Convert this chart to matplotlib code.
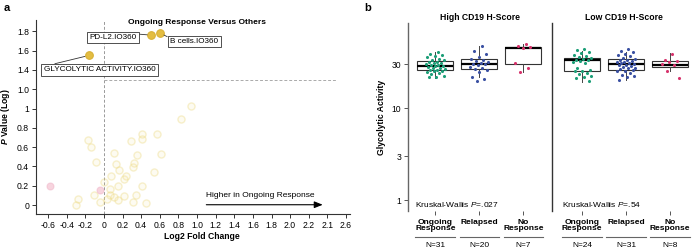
import numpy as np
import matplotlib
matplotlib.use("Agg")
import matplotlib.pyplot as plt

plt.rcParams['font.family'] = ['Liberation Sans', 'DejaVu Sans']
plt.rcParams['mathtext.fontset'] = 'custom'
plt.rcParams['mathtext.it'] = 'Liberation Sans:italic'
plt.rcParams['mathtext.bf'] = 'Liberation Sans:bold'
plt.rcParams['mathtext.bfit'] = 'Liberation Sans:italic:bold'

# ---- panel a: volcano data ----
ns_x = [-0.28, -0.30, -0.17, -0.14, -0.08, -0.11, -0.04, 0.0, 0.065, 0.065, 0.03,
        0.11, 0.125, 0.165, 0.08, 0.155, 0.11, 0.15, 0.215, 0.215, 0.24, 0.29,
        0.315, 0.32, 0.36, 0.31, 0.34, 0.41, 0.405, 0.41, 0.45, 0.54, 0.57,
        0.61, 0.83, 0.94]
ns_y = [0.06, 0.0, 0.67, 0.60, 0.45, 0.10, 0.03, 0.24, 0.17, 0.10, 0.06,
        0.535, 0.425, 0.36, 0.30, 0.20, 0.08, 0.05, 0.09, 0.27, 0.30, 0.66,
        0.39, 0.44, 0.515, 0.035, 0.10, 0.20, 0.74, 0.68, 0.02, 0.34, 0.74,
        0.53, 0.89, 1.03]
neg_x = [-0.58, -0.04]
neg_y = [0.20, 0.16]
sig_x = [-0.16, 0.51, 0.605]
sig_y = [1.55, 1.76, 1.78]
sig_names = ['GLYCOLYTIC ACTIVITY.IO360', 'PD-L2.IO360', 'B cells.IO360']
sig_label_pos = [(-0.048, 1.399), (0.097, 1.736), (0.968, 1.694)]
sig_relpos = [(0, 1), (1, 1), (0, 1)]

xtick_labels = ['-0.6', '-0.4', '-0.2', '0', '0.2', '0.4', '0.6', '0.8', '1.0',
                '1.2', '1.4', '1.6', '1.8', '2.0', '2.2', '2.1', '2.6']
ytick_labels = ['0', '0.2', '0.4', '0.6', '0.8', '1', '1.0', '1.4', '1.6', '1.8']

# ---- panel b: glycolytic activity by response ----
facets = ['High CD19 H-Score', 'Low CD19 H-Score']
groups = ['Ongoing\nResponse', 'Relapsed', 'No\nResponse']
group_colors = ['#1b9e77', '#3a50a2', '#d6336c']
kw_text = ['Kruskal-Wallis $\\mathit{P}$=.027', 'Kruskal-Wallis $\\mathit{P}$=.54']

high_ongoing = [41, 39, 38, 37, 36, 34.5, 33.5, 33, 32, 31.5, 31, 30.5, 30, 29.5, 29,
                28.5, 28.3, 28, 27.5, 27, 26.5, 26, 25.8, 25.5, 25, 24.5, 24, 23.5,
                22.5, 22, 21.5]
high_relapsed = [47, 42, 39, 36, 34.5, 33.5, 32.5, 31.5, 30.5, 30, 29.8, 29, 28, 27,
                 26.5, 26, 24.5, 22, 20.5, 19.5]
high_noresp = [49.5, 47, 45.5, 44.5, 31, 27.5, 24.4]
low_ongoing = [44, 42.5, 41, 40, 38, 36.5, 35.5, 35, 34, 33.5, 33, 32.5, 32, 31, 27,
               26, 25.5, 25, 24, 23.5, 22.5, 22, 21, 19.5]
low_relapsed = [44, 42, 41, 39, 38, 37, 35, 34, 33.5, 33, 32.5, 32, 31.5, 31, 30.5,
                30, 29.5, 29, 28.5, 28, 27.5, 27, 26.5, 26, 25.5, 25, 24, 23, 22.5,
                21.5, 20]
low_noresp = [39, 33, 32.5, 32, 30, 29, 25.4, 21]

# box stats: (whislo, q1, med, q3, whishi)
high_boxes = [(21.2, 25.6, 28.3, 32.4, 40.6),
              (21.7, 26.5, 29.9, 34.1, 47.2),
              (24.4, 29.9, 44.5, 46.4, 49.2)]
low_boxes = [(19.3, 25.3, 33.0, 34.9, 42.2),
             (20.1, 25.9, 29.9, 33.8, 41.1),
             (25.4, 28.1, 29.6, 32.4, 39.3)]
facet_points = [[high_ongoing, high_relapsed, high_noresp],
                [low_ongoing, low_relapsed, low_noresp]]
facet_boxes = [high_boxes, low_boxes]


def main():
    fig = plt.figure(figsize=(6.99, 2.48), dpi=100)
    W, H = 699, 248

    # ================= panel a =================
    ax = fig.add_axes([36 / W, (H - 214) / H, 314 / W, 194 / H])
    ax.set_xlim(-0.729, 2.643)
    ax.set_ylim(-0.093, 1.917)
    for s in ['top', 'right']:
        ax.spines[s].set_visible(False)
    for s in ['left', 'bottom']:
        ax.spines[s].set_linewidth(0.8)
        ax.spines[s].set_color('#333333')

    ax.axvline(0, color='#999999', lw=0.7, dashes=(3, 2), zorder=1)
    ax.plot([0, 2.5], [1.3, 1.3], color='#aaaaaa', lw=0.7, dashes=(3, 2), zorder=1)

    ax.scatter(ns_x, ns_y, s=26, facecolor=(0.96, 0.88, 0.55, 0.12),
               edgecolor=(0.93, 0.85, 0.5, 0.38), linewidth=1.0, zorder=2)
    ax.scatter(neg_x, neg_y, s=26, facecolor=(0.92, 0.58, 0.68, 0.4),
               edgecolor=(0.92, 0.62, 0.72, 0.35), linewidth=0.8, zorder=2)
    ax.scatter(sig_x, sig_y, s=30, facecolor='#e3bd42', edgecolor='#d8b035',
               linewidth=0.8, zorder=3)

    for x, y, name, pos, rp in zip(sig_x, sig_y, sig_names, sig_label_pos, sig_relpos):
        ax.annotate(name, xy=(x, y), xytext=pos, textcoords='data',
                    ha='center', va='center', fontsize=5.9, zorder=4,
                    bbox=dict(boxstyle='square,pad=0.3', fc='white', ec='#333333', lw=0.6),
                    arrowprops=dict(arrowstyle='-', color='#333333', lw=0.6,
                                    relpos=rp, shrinkA=0, shrinkB=3))

    ax.annotate('', xy=(2.35, 0.003), xytext=(1.1, 0.003),
                arrowprops=dict(arrowstyle='-|>,head_length=0.5,head_width=0.2',
                                color='black', lw=0.8, shrinkA=0, shrinkB=0))
    ax.text(1.1, 0.095, 'Higher in Ongoing Response', fontsize=6, ha='left', va='center')

    ax.text(1.0, 1.895, 'Ongoing Response Versus Others', fontsize=6,
            fontweight='bold', ha='center', va='center')

    ax.set_xticks(np.arange(17) * 0.2 - 0.6)
    ax.set_xticklabels(xtick_labels)
    ax.set_yticks(np.arange(10) * 0.2)
    ax.set_yticklabels(ytick_labels)
    ax.tick_params(labelsize=6.2, length=3, width=0.7, pad=2, colors='#333333',
                   labelcolor='black')
    ax.set_xlabel('Log2 Fold Change', fontsize=6.2, fontweight='bold')
    ax.xaxis.set_label_coords(0.528, -0.095)
    ax.set_ylabel('$\\mathbfit{P}$ Value (Log)', fontsize=6.2, fontweight='bold')
    ax.yaxis.set_label_coords(-0.075, 0.5)

    fig.text(4 / W, 1 - 8 / H, 'a', fontsize=8, fontweight='bold', va='center')
    fig.text(364 / W, 1 - 8 / H, 'b', fontsize=8, fontweight='bold', va='center')

    # ================= panel b =================
    golden = 0.6180339887
    lefts = [408, 552]
    xlims = [(0.38, 3.65), (0.32, 3.59)]
    counts = [[31, 20, 7], [24, 31, 8]]
    for k in range(2):
        a = fig.add_axes([lefts[k] / W, (H - 211) / H, 144 / W, 188 / H])
        a.set_yscale('log')
        a.set_ylim(0.76, 84)
        a.set_xlim(*xlims[k])
        for s in ['top', 'right', 'bottom']:
            a.spines[s].set_visible(False)
        a.spines['left'].set_linewidth(1.0)
        a.spines['left'].set_color('#666666' if k == 0 else '#333333')

        stats = []
        for (lo, q1, med, q3, hi) in facet_boxes[k]:
            stats.append(dict(whislo=lo, q1=q1, med=med, q3=q3, whishi=hi, fliers=[]))
        a.bxp(stats, positions=[1, 2, 3], widths=0.82, showfliers=False,
              showcaps=False, patch_artist=True,
              boxprops=dict(facecolor='white', edgecolor='#333333', linewidth=0.8),
              medianprops=dict(color='black', linewidth=1.6),
              whiskerprops=dict(color='#444444', linewidth=0.7))

        for j, vals in enumerate(facet_points[k]):
            n = len(vals)
            offs = (((np.arange(n) + 1) * golden) % 1.0 - 0.5) * 0.45
            a.scatter(j + 1 + offs, vals, s=5, color=group_colors[j],
                      linewidth=0, zorder=3)

        a.set_xticks([1, 2, 3])
        a.set_xticklabels([])
        a.tick_params(axis='x', length=3, width=0.7, colors='#555555')
        a.minorticks_off()
        if k == 0:
            a.set_yticks([1, 3, 10, 30])
            a.set_yticklabels(['1', '3', '10', '30'])
            a.tick_params(axis='y', labelsize=6.2, length=3, width=0.7,
                          colors='#555555', labelcolor='black', pad=2)
            a.set_ylabel('Glycolytic Activity', fontsize=6.2, fontweight='bold')
            a.yaxis.set_label_coords(-0.15, 0.5)
        else:
            a.set_yticks([])

        a.text(0.5, 1.005, facets[k], transform=a.transAxes, fontsize=6.2,
               fontweight='bold', ha='center', va='bottom')
        a.text(0.049 if k == 0 else 0.069, 0.032, kw_text[k], transform=a.transAxes,
               fontsize=6, ha='left', va='center')

        trans = a.get_xaxis_transform()
        for j, g in enumerate(groups):
            a.text(j + 1, -0.040, g, transform=trans, fontsize=6, fontweight='bold',
                   ha='center', va='top', linespacing=0.95)
            a.plot([j + 1 - 0.45, j + 1 + 0.45], [-0.138, -0.138], transform=trans,
                   color='#666666', lw=0.8, clip_on=False)
            a.text(j + 1, -0.184, 'N=%d' % counts[k][j], transform=trans,
                   fontsize=6, ha='center', va='center')

    fig.savefig('out.png', dpi=100)


if __name__ == '__main__':
    main()
